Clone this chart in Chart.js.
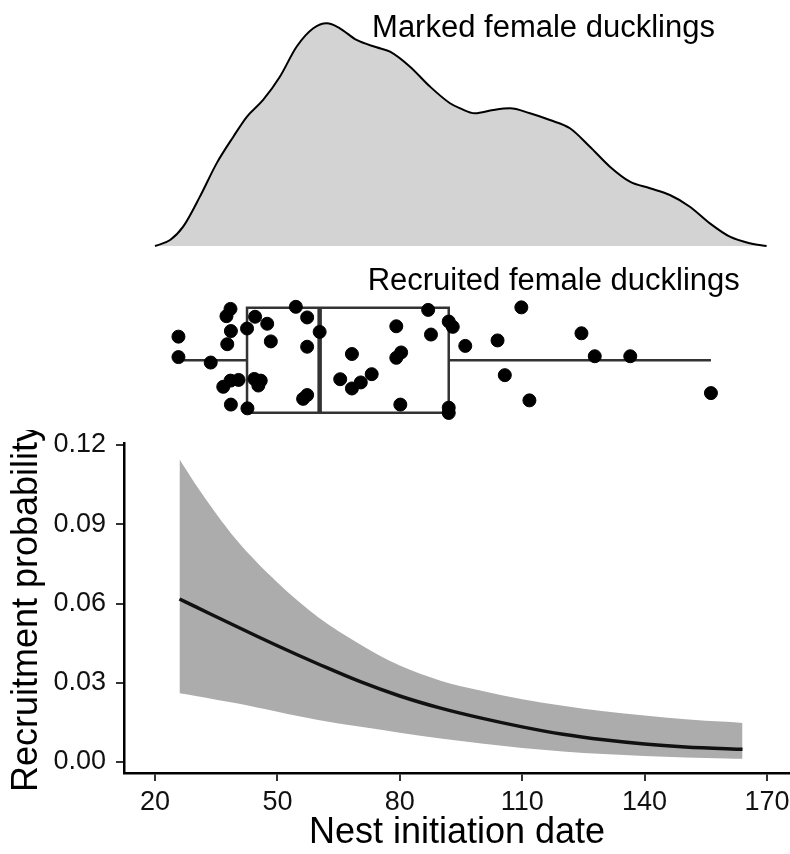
<!DOCTYPE html>
<html>
<head>
<meta charset="utf-8">
<script src="https://cdn.jsdelivr.net/npm/chart.js@4.4.1/dist/chart.umd.min.js"></script>
<style>
  body { margin: 0; background: #fff; }
  #wrap { position: relative; width: 790px; height: 854px; overflow: hidden; }
  canvas { position: absolute; left: 0; }
</style>
</head>
<body>
<div id="wrap">
  <canvas id="densChart" width="790" height="250" style="top:0"></canvas>
  <canvas id="boxChart" width="790" height="180" style="top:250px"></canvas>
  <canvas id="probChart" width="790" height="430" style="top:430px"></canvas>
</div>
<script>
// shared x range (nest initiation date)
const xMin = 12.4, xMax = 175.64;
const xTicks = [20, 50, 80, 110, 140, 170];
const yTicks = [0, 0.03, 0.06, 0.09, 0.12];

// density of initiation date, marked female ducklings
const densDate = [20, 23.7, 26.9, 31, 35.1, 39.2, 42.5, 46.5, 50.6, 54.7, 58.8, 62.1, 65.3, 69.4, 74.3, 77.6, 82.5, 87.4, 92.3, 94.8,
  98.4, 102.9, 107, 111.9, 116.8, 121.7, 126.6, 131.5, 136.4, 141.3, 146.2, 151.1, 156, 160.9, 165.8, 169.9];
const densValue = [0, 0.00033, 0.00106, 0.0027, 0.00452, 0.00598, 0.00707, 0.00799, 0.00926, 0.0109, 0.01191, 0.01218, 0.01191, 0.01127,
  0.01087, 0.01063, 0.00981, 0.00872, 0.00781, 0.00753, 0.00726, 0.00744, 0.00753, 0.00726, 0.00689, 0.00644, 0.00543, 0.00434,
  0.00352, 0.00316, 0.00279, 0.00215, 0.00124, 0.00051, 0.00015, 0];

// recruited female ducklings: date + vertical jitter
const recruitDate = [25.9, 25.9, 33.9, 38.8, 37.8, 38.9, 38.0, 37.0, 38.8, 40.8, 38.9, 42.9, 43.0, 44.9, 47.9, 48.8, 44.7, 46.3, 45.7,
  55.0, 57.8, 57.8, 56.8, 57.8, 60.9, 68.9, 66.0, 68.9, 71.1, 73.8, 79.9, 79.9, 81.1, 88.5, 87.8, 92.9, 93.9, 80.9, 92.9, 92.9,
  97.0, 105.0, 106.8, 110.9, 112.9, 125.8, 129.1, 137.9, 157.9];
const recruitJitter = [0.169, 0.023, -0.016, 0.367, 0.315, 0.209, 0.115, -0.189, -0.145, -0.140, -0.316, 0.227, -0.343, 0.311, 0.261,
  0.135, -0.133, -0.145, -0.180, 0.382, 0.306, 0.097, -0.275, -0.248, 0.203, 0.045, -0.135, -0.201, -0.158, -0.099, 0.243, 0.018,
  0.056, 0.184, 0.360, 0.277, 0.239, -0.316, -0.338, -0.376, 0.103, 0.142, -0.106, 0.378, -0.286, 0.193, 0.029, 0.029, -0.234];
// min, q1, median, q3, max
const boxStats = [25.9, 42.9, 60.9, 92.9, 157.9];
const boxHalf = 0.375;

// fitted recruitment probability and 95% band
const fitDate = [26, 30, 35, 40, 45, 50, 55, 60, 70, 80, 90, 100, 110, 120, 130, 140, 150, 160, 164];
const fitProb = [0.0617, 0.0587, 0.0550, 0.0513, 0.0476, 0.0440, 0.0405, 0.0371, 0.0306, 0.0250, 0.0204, 0.0166, 0.0133, 0.0105,
  0.0084, 0.0068, 0.0057, 0.0050, 0.0048];
const fitLower = [0.0260, 0.0250, 0.0236, 0.0222, 0.0206, 0.0190, 0.0174, 0.0159, 0.0134, 0.0111, 0.0089, 0.0070, 0.0053, 0.0040,
  0.0030, 0.0023, 0.0017, 0.0013, 0.0012];
const fitUpper = [0.1146, 0.1050, 0.0940, 0.0840, 0.0755, 0.0680, 0.0610, 0.0548, 0.0448, 0.0365, 0.0308, 0.0270, 0.0238, 0.0213,
  0.0192, 0.0176, 0.0162, 0.0152, 0.0148];

const family = "'Liberation Sans', Arial, sans-serif";
const xy = (xs, ys) => xs.map((x, i) => ({ x: x, y: ys[i] }));

// draws a text label anchored at an x value
const panelLabel = {
  id: 'panelLabel',
  afterDatasetsDraw(chart, args, opts) {
    if (!opts.text) return;
    const ctx = chart.ctx;
    ctx.save();
    ctx.font = opts.size + 'px ' + family;
    ctx.fillStyle = '#000';
    ctx.textAlign = 'left';
    ctx.textBaseline = 'alphabetic';
    ctx.fillText(opts.text, chart.scales.x.getPixelForValue(opts.x), opts.y);
    ctx.restore();
  }
};

const common = {
  responsive: false,
  animation: false,
  events: []
};

/* ---------------- TOP: density ---------------- */
new Chart(document.getElementById('densChart'), {
  type: 'line',
  data: {
    datasets: [{
      data: xy(densDate, densValue),
      fill: 'origin',
      backgroundColor: '#d3d3d3',
      borderColor: '#000',
      borderWidth: 2,
      pointRadius: 0,
      cubicInterpolationMode: 'monotone',
      clip: false
    }]
  },
  options: {
    ...common,
    layout: { padding: { left: 124, right: 0, top: 10, bottom: 4 } },
    scales: {
      x: { type: 'linear', display: false, min: xMin, max: xMax },
      y: { display: false, min: 0, max: 0.01291 }
    },
    plugins: {
      legend: { display: false },
      tooltip: { enabled: false },
      panelLabel: { text: 'Marked female ducklings', x: 73.2, y: 37, size: 31 }
    }
  },
  plugins: [panelLabel]
});

/* ---------------- MIDDLE: boxplot + jitter ---------------- */
const [bMin, q1, med, q3, bMax] = boxStats;
const boxLine = { showLine: true, pointRadius: 0, borderColor: '#333', borderWidth: 2.5, fill: false, tension: 0, clip: false };

new Chart(document.getElementById('boxChart'), {
  type: 'line',
  data: {
    datasets: [
      {
        data: xy(recruitDate, recruitJitter),
        showLine: false,
        pointRadius: 6.5,
        pointBorderWidth: 1,
        pointBackgroundColor: '#000',
        pointBorderColor: '#000',
        clip: false
      },
      { ...boxLine, data: [{ x: q1, y: -boxHalf }, { x: q3, y: -boxHalf }, { x: q3, y: boxHalf }, { x: q1, y: boxHalf }, { x: q1, y: -boxHalf }] },
      { ...boxLine, borderWidth: 4.5, data: [{ x: med, y: -boxHalf }, { x: med, y: boxHalf }] },
      { ...boxLine, data: [{ x: bMin, y: 0 }, { x: q1, y: 0 }] },
      { ...boxLine, data: [{ x: q3, y: 0 }, { x: bMax, y: 0 }] }
    ]
  },
  options: {
    ...common,
    layout: { padding: { left: 124, right: 0, top: 40, bottom: 0 } },
    scales: {
      x: { type: 'linear', display: false, min: xMin, max: xMax },
      y: { display: false, min: -0.444, max: 0.502 }
    },
    plugins: {
      legend: { display: false },
      tooltip: { enabled: false },
      panelLabel: { text: 'Recruited female ducklings', x: 72.8, y: 40, size: 31 }
    }
  },
  plugins: [panelLabel]
});

/* ---------------- BOTTOM: fitted probability ---------------- */
const axisGrid = { drawOnChartArea: false, drawTicks: true, tickLength: 8, color: '#333', lineWidth: 2 };
const axisBorder = { display: true, color: '#000', width: 2.5 };

new Chart(document.getElementById('probChart'), {
  type: 'line',
  data: {
    datasets: [
      {
        data: xy(fitDate, fitProb),
        borderColor: '#111',
        borderWidth: 3.5,
        pointRadius: 0,
        fill: false,
        cubicInterpolationMode: 'monotone'
      },
      {
        data: xy(fitDate, fitUpper),
        borderWidth: 0,
        pointRadius: 0,
        backgroundColor: '#acacac',
        fill: '+1',
        cubicInterpolationMode: 'monotone'
      },
      {
        data: xy(fitDate, fitLower),
        borderWidth: 0,
        pointRadius: 0,
        fill: false,
        cubicInterpolationMode: 'monotone'
      }
    ]
  },
  options: {
    ...common,
    layout: { padding: { left: 0, right: 0, top: 13, bottom: 0 } },
    scales: {
      x: {
        type: 'linear', min: xMin, max: xMax,
        afterBuildTicks: s => { s.ticks = xTicks.map(v => ({ value: v })); },
        afterFit: s => { s.height = 87; s.paddingLeft = 0; s.paddingRight = 0; },
        grid: axisGrid,
        border: axisBorder,
        ticks: { autoSkip: false, maxRotation: 0, padding: 5, color: '#111', font: { size: 27, family: family } },
        title: { display: true, text: 'Nest initiation date', color: '#000', font: { size: 36, family: family }, padding: { top: 0, bottom: 5 } }
      },
      y: {
        min: -0.00416, max: 0.12076,
        afterBuildTicks: s => { s.ticks = yTicks.map(v => ({ value: v })); },
        afterFit: s => { s.width = 124; s.paddingTop = 0; s.paddingBottom = 0; },
        grid: axisGrid,
        border: axisBorder,
        ticks: { padding: 10, color: '#111', font: { size: 27, family: family }, callback: v => Number(v).toFixed(2) },
        title: { display: true, text: 'Recruitment probability', color: '#000', font: { size: 36, family: family }, padding: { top: 5, bottom: 0 } }
      }
    },
    plugins: {
      legend: { display: false },
      tooltip: { enabled: false }
    }
  }
});
</script>
</body>
</html>
